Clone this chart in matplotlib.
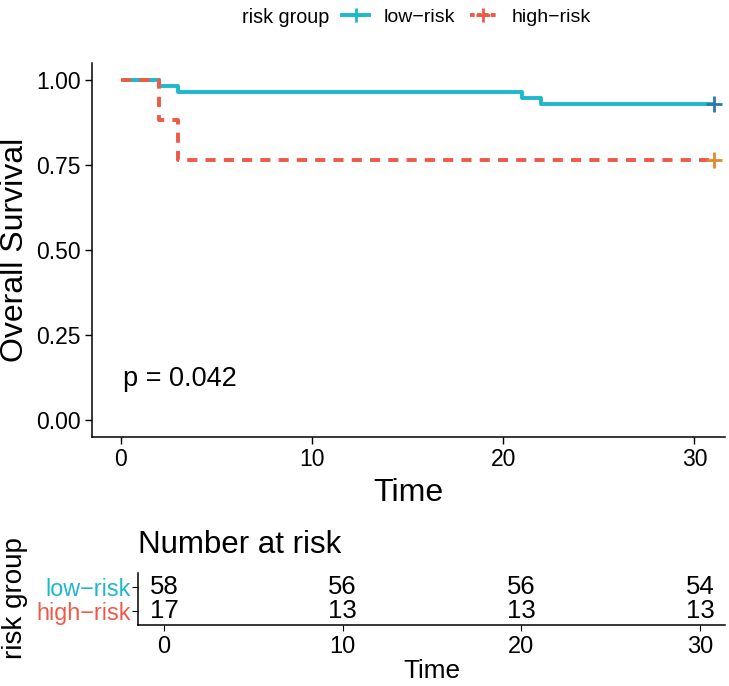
import matplotlib.pyplot as plt
from matplotlib.lines import Line2D

plt.rcParams["font.family"] = ["Liberation Sans", "DejaVu Sans"]

LOW_COLOR = "#1DB8CC"
HIGH_COLOR = "#EE5A48"

groups = ["low\u2212risk", "high\u2212risk"]

low_time = [0, 2, 3, 21, 22, 31]
low_surv = [1.0, 0.983, 0.966, 0.948, 0.931, 0.931]
high_time = [0, 2, 3, 31]
high_surv = [1.0, 0.882, 0.765, 0.765]

risk_times = [0, 10, 20, 30]
low_at_risk = [58, 56, 56, 54]
high_at_risk = [17, 13, 13, 13]

p_text = "p = 0.042"

fig = plt.figure(figsize=(7.29, 6.86), dpi=100)

# survival curves
ax = fig.add_axes([0.1262, 0.363, 0.8683, 0.545])
ax.step(low_time, low_surv, where="post", color=LOW_COLOR, lw=2.8,
        solid_capstyle="butt")
ax.step(high_time, high_surv, where="post", color=HIGH_COLOR, lw=2.8,
        linestyle=(0, (2.6, 2.1)), dash_capstyle="butt")
ax.plot(low_time[-1], low_surv[-1], marker="+", ms=11, mew=2, color="#2A78B0")
ax.plot(high_time[-1], high_surv[-1], marker="+", ms=11, mew=2, color="#E08A2C")

ax.set_xlim(-1.5, 31.6)
ax.set_ylim(-0.05, 1.05)
ax.set_xticks([0, 10, 20, 30])
ax.set_yticks([0, 0.25, 0.5, 0.75, 1.0])
ax.set_yticklabels(["0.00", "0.25", "0.50", "0.75", "1.00"])
ax.tick_params(labelsize=16.5, length=5, width=1, color="black",
               labelcolor="black", pad=3)
for s in ["top", "right"]:
    ax.spines[s].set_visible(False)
for s in ["left", "bottom"]:
    ax.spines[s].set_linewidth(1.1)
ax.text(0.1, 0.1, p_text, fontsize=19.5, va="baseline", ha="left")

fig.text(0.5604, 1 - 501 / 686, "Time", fontsize=23, ha="center", va="baseline")
fig.text(0.021, 0.636, "Overall Survival", fontsize=23, rotation=90,
         ha="center", va="center")

# legend
fig.text(0.332, 0.975, "risk group", fontsize=14.2, va="center", ha="left")
handles = [
    Line2D([], [], color=LOW_COLOR, lw=2.8, marker="+", ms=10, mew=2),
    Line2D([], [], color=HIGH_COLOR, lw=2.8, linestyle=(0, (1.2, 0.6)),
           marker="+", ms=10, mew=2),
]
fig.legend(handles, groups, loc="center left", bbox_to_anchor=(0.469, 0.975),
           ncol=2, frameon=False, fontsize=14, handlelength=1.4,
           handletextpad=0.75, columnspacing=0.75, borderaxespad=0,
           borderpad=0)

# number at risk table
rt = fig.add_axes([0.1893, 0.089, 0.8052, 0.076])
for i, t in enumerate(risk_times):
    rt.text(t, 2, str(low_at_risk[i]), fontsize=18.5, ha="center", va="center")
    rt.text(t, 1, str(high_at_risk[i]), fontsize=18.5, ha="center", va="center")
rt.set_xlim(-1.45, 31.4)
rt.set_ylim(0.4, 2.6)
rt.set_xticks(risk_times)
rt.set_yticks([2, 1])
rt.set_yticklabels(groups)
for lbl, c in zip(rt.get_yticklabels(), [LOW_COLOR, HIGH_COLOR]):
    lbl.set_color(c)
rt.tick_params(axis="y", labelsize=16.8, length=4, pad=1)
rt.tick_params(axis="x", labelsize=17, length=4, pad=4)
for s in ["top", "right"]:
    rt.spines[s].set_visible(False)
for s in ["left", "bottom"]:
    rt.spines[s].set_linewidth(1.1)

fig.text(0.1893, 1 - 553 / 686, "Number at risk", fontsize=22.5,
         ha="left", va="baseline")
fig.text(0.5922, 1 - 683 / 686, "Time", fontsize=18.8, ha="center", va="bottom")
fig.text(0.021, 0.128, "risk group", fontsize=20, rotation=90,
         va="center", ha="center")

fig.savefig("out.png", dpi=100)
